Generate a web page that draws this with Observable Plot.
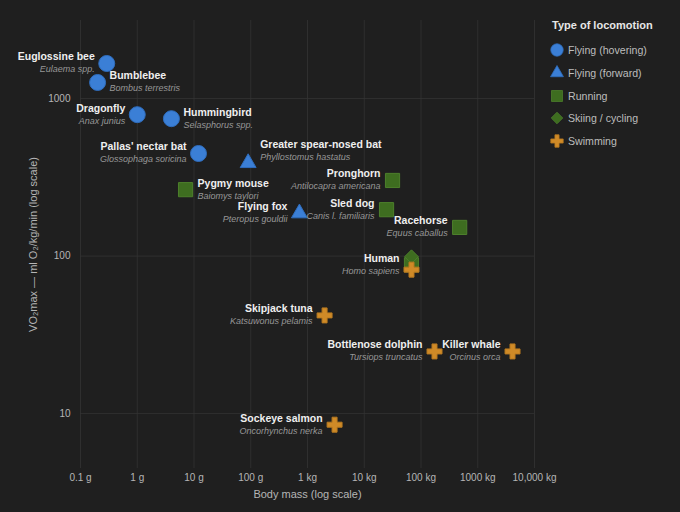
<!DOCTYPE html>
<html>
<head>
<meta charset="utf-8">
<script src="https://cdn.jsdelivr.net/npm/d3@7"></script>
<script src="https://cdn.jsdelivr.net/npm/@observablehq/plot@0.6"></script>
<style>
  html, body { margin: 0; padding: 0; background: #1f1f1f; }
  #wrap { position: relative; width: 680px; height: 512px; background: #1f1f1f; font-family: "Liberation Sans", Arial, Helvetica, sans-serif; }
  #legend { position: absolute; left: 548px; top: 19px; color: #bdbdbd; font-size: 10.6px; }
  #legend .title { font-weight: bold; font-size: 11px; color: #e6e6e6; margin-left: 4px; margin-bottom: 8px; }
  #legend .item { display: flex; align-items: center; height: 22.7px; }
  #legend svg { width: 18px; height: 18px; margin-right: 2px; }
</style>
</head>
<body>
<div id="wrap"><div id="chart"></div><div id="legend"></div></div>
<script>
// ---- data ----
const names = ["Euglossine bee","Bumblebee","Dragonfly","Hummingbird","Pallas' nectar bat",
  "Greater spear-nosed bat","Flying fox",
  "Pygmy mouse","Pronghorn","Sled dog","Racehorse","Human",
  "Human",
  "Human","Skipjack tuna","Bottlenose dolphin","Killer whale","Sockeye salmon"];
const sciNames = ["Eulaema spp.","Bombus terrestris","Anax junius","Selasphorus spp.","Glossophaga soricina",
  "Phyllostomus hastatus","Pteropus gouldii",
  "Baiomys taylori","Antilocapra americana","Canis l. familiaris","Equus caballus","Homo sapiens",
  "",
  "","Katsuwonus pelamis","Tursiops truncatus","Orcinus orca","Oncorhynchus nerka"];
const massGrams = [0.29, 0.2, 1.0, 4.0, 12,
  90, 720,
  7.1, 31500, 24700, 480000, 68000,
  68000,
  68000, 2000, 173000, 4100000, 3000];
const vo2max = [1670, 1265, 790, 745, 448,
  390, 187,
  264, 302, 197, 152, 88,
  99,
  82, 42, 24.8, 24.8, 8.5];
const locomotion = ["Flying (hovering)","Flying (hovering)","Flying (hovering)","Flying (hovering)","Flying (hovering)",
  "Flying (forward)","Flying (forward)",
  "Running","Running","Running","Running","Running",
  "Skiing / cycling",
  "Swimming","Swimming","Swimming","Swimming","Swimming"];
const types = ["Flying (hovering)","Flying (forward)","Running","Skiing / cycling","Swimming"];
const xTicks = [0.1, 1, 10, 100, 1000, 1e4, 1e5, 1e6, 1e7];
const xTickLabels = ["0.1 g","1 g","10 g","100 g","1 kg","10 kg","100 kg","1000 kg","10,000 kg"];
const yTicks = [10, 100, 1000];

// ---- styles (not data) ----
const typeStyle = {
  "Flying (hovering)": {symbol: "circle", r: 8, fill: "#3b7fd6", stroke: "#2f6dbd"},
  "Flying (forward)": {symbol: "triangle", r: 5.9, fill: "#3b7fd6", stroke: "#2f6dbd"},
  "Running": {symbol: "square", r: 8, fill: "#3e6d20", stroke: "#4d7f2c"},
  "Skiing / cycling": {symbol: "diamond2", r: 6.2, fill: "#3e6d20", stroke: "#4d7f2c"},
  "Swimming": {symbol: "cross", r: 6.3, fill: "#cf8a27", stroke: "#b97a20"}
};
const rightLabels = new Set(["Bumblebee","Hummingbird","Greater spear-nosed bat","Pygmy mouse"]);
const raisedLabels = new Set(["Greater spear-nosed bat"]);

const rows = names.map((n, i) => ({name: n, sci: sciNames[i], mass: massGrams[i], vo2: vo2max[i], type: locomotion[i]}));
const seen = new Set();
const labeled = rows.filter(d => { if (seen.has(d.name)) return false; seen.add(d.name); return true; });

const font = "'Liberation Sans', Arial, Helvetica, sans-serif";
const xLabelOf = d => xTickLabels[xTicks.findIndex(t => Math.abs(Math.log10(t) - Math.log10(d)) < 1e-6)];

const dotMarks = types.map(t => {
  const s = typeStyle[t];
  return Plot.dot(rows.filter(d => d.type === t), {x: "mass", y: "vo2", symbol: () => s.symbol, r: s.r, fill: s.fill, stroke: s.stroke, strokeWidth: 1});
});

function labelMarks(side) {
  const data = labeled.filter(d => side === "right" ? rightLabels.has(d.name) : !rightLabels.has(d.name));
  const dx = side === "right" ? 12 : -12;
  const anchor = side === "right" ? "start" : "end";
  const common = {x: "mass", y: "vo2", dx, textAnchor: anchor, lineAnchor: "middle", fontFamily: font};
  return [
    Plot.text(data, {...common, text: "name", fill: "#efefef", fontWeight: "bold", fontSize: 10.5,
      filter: d => !raisedLabels.has(d.name), dy: -6.5}),
    Plot.text(data, {...common, text: "sci", fill: "#979797", fontStyle: "italic", fontSize: 9,
      filter: d => !raisedLabels.has(d.name), dy: 6}),
    Plot.text(data, {...common, text: "name", fill: "#efefef", fontWeight: "bold", fontSize: 10.5,
      filter: d => raisedLabels.has(d.name), dy: -18.5}),
    Plot.text(data, {...common, text: "sci", fill: "#979797", fontStyle: "italic", fontSize: 9,
      filter: d => raisedLabels.has(d.name), dy: -6})
  ];
}

const chart = Plot.plot({
  width: 680,
  height: 512,
  marginLeft: 80,
  marginRight: 146,
  marginTop: 20,
  marginBottom: 44,
  style: {background: "#1f1f1f", color: "#b5b5b5", fontFamily: font, fontSize: "10px"},
  x: {type: "log", domain: [0.1, 1e7]},
  y: {type: "log", domain: [4.48, 3130]},
  marks: [
    Plot.gridX(xTicks, {stroke: "#333333", strokeOpacity: 1, strokeWidth: 0.8}),
    Plot.gridY(yTicks, {stroke: "#333333", strokeOpacity: 1, strokeWidth: 0.8}),
    Plot.axisX(xTicks, {tickSize: 0, tickPadding: 5, tickFormat: xLabelOf, label: null, fill: "#b5b5b5", fontSize: 10}),
    Plot.axisY(yTicks, {tickSize: 0, tickPadding: 10, tickFormat: d => String(d), label: null, fill: "#b5b5b5", fontSize: 10}),
    Plot.text(["Body mass (log scale)"], {frameAnchor: "bottom", textAnchor: "middle", dy: 26, lineAnchor: "middle", fill: "#b5b5b5", fontSize: 11, fontFamily: font}),
    Plot.text(["VO₂max — ml O₂/kg/min (log scale)"], {frameAnchor: "left", textAnchor: "middle", dx: -47, rotate: -90, lineAnchor: "middle", fill: "#b5b5b5", fontSize: 11, fontFamily: font}),
    ...dotMarks,
    ...labelMarks("left"),
    ...labelMarks("right")
  ]
});
document.getElementById("chart").appendChild(chart);

// ---- legend ----
const legend = document.getElementById("legend");
const title = document.createElement("div");
title.className = "title";
title.textContent = "Type of locomotion";
legend.appendChild(title);
const legendSymbolSize = {"circle": 6.2, "triangle": 4.8, "square": 6.2, "diamond2": 5.2, "cross": 5.2};
const symbolMap = {circle: d3.symbolCircle, triangle: d3.symbolTriangle, square: d3.symbolSquare, diamond2: d3.symbolDiamond2, cross: d3.symbolCross};
types.forEach(t => {
  const s = typeStyle[t];
  const item = document.createElement("div");
  item.className = "item";
  const rr = legendSymbolSize[s.symbol];
  const path = d3.symbol(symbolMap[s.symbol], Math.PI * rr * rr)();
  item.innerHTML = `<svg viewBox="-9 -9 18 18"><path d="${path}" fill="${s.fill}" stroke="${s.stroke}" stroke-width="0.8"/></svg><span>${t}</span>`;
  legend.appendChild(item);
});
</script>
</body>
</html>
